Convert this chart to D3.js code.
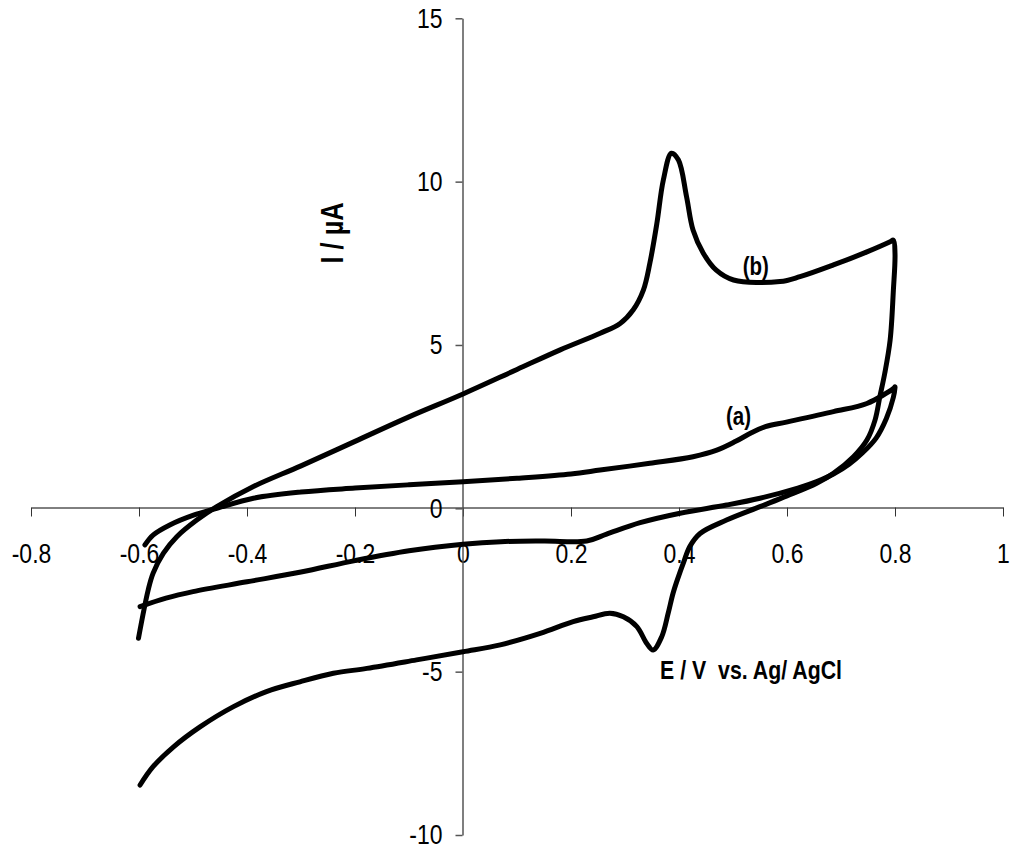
<!DOCTYPE html>
<html>
<head>
<meta charset="utf-8">
<script src="https://cdn.jsdelivr.net/npm/d3@7"></script>
<style>
  html, body { margin: 0; padding: 0; background: #fff; }
  svg { display: block; }
  text { font-family: "Liberation Sans", Arial, sans-serif; }
</style>
</head>
<body>
<svg id="chart" width="1010" height="850"></svg>
<script>
// Cyclic voltammograms: potential E (V vs. Ag/AgCl) and current I (µA)
const xTicks = [-0.8, -0.6, -0.4, -0.2, 0, 0.2, 0.4, 0.6, 0.8, 1];
const yTicks = [-10, -5, 0, 5, 10, 15];

// curve (a): anodic sweep then cathodic sweep
const aForwardE = [-0.589, -0.574, -0.543, -0.499, -0.456, -0.388, -0.30, -0.20, -0.10, 0.0, 0.10, 0.20, 0.254, 0.346, 0.426, 0.470, 0.505, 0.535, 0.560, 0.599, 0.686, 0.748, 0.797, 0.800];
const aForwardI = [-1.12, -0.82, -0.51, -0.21, 0.0, 0.31, 0.50, 0.62, 0.72, 0.81, 0.92, 1.05, 1.17, 1.38, 1.58, 1.78, 2.05, 2.32, 2.50, 2.64, 2.96, 3.21, 3.67, 3.72];
const aReverseE = [0.800, 0.797, 0.784, 0.765, 0.740, 0.715, 0.686, 0.655, 0.620, 0.550, 0.488, 0.402, 0.328, 0.266, 0.229, 0.150, 0.070, 0.0, -0.10, -0.20, -0.30, -0.40, -0.50, -0.55, -0.598];
const aReverseI = [3.70, 3.40, 2.75, 2.15, 1.70, 1.35, 1.05, 0.82, 0.62, 0.31, 0.10, -0.15, -0.44, -0.79, -1.00, -1.00, -1.02, -1.10, -1.30, -1.60, -1.95, -2.25, -2.55, -2.75, -3.01];

// curve (b): anodic sweep then cathodic sweep
const bForwardE = [-0.601, -0.583, -0.574, -0.555, -0.530, -0.493, -0.456, -0.389, -0.30, -0.20, -0.10, 0.0, 0.10, 0.18, 0.254, 0.291, 0.315, 0.334, 0.346, 0.359, 0.371, 0.386, 0.399, 0.414, 0.426, 0.445, 0.469, 0.501, 0.587, 0.624, 0.686, 0.748, 0.791, 0.797];
const bForwardI = [-3.98, -2.50, -1.99, -1.38, -0.87, -0.36, 0.05, 0.66, 1.30, 2.05, 2.80, 3.50, 4.25, 4.85, 5.36, 5.66, 6.07, 6.68, 7.50, 8.72, 10.05, 10.87, 10.66, 9.54, 8.52, 7.81, 7.29, 6.99, 6.94, 7.09, 7.45, 7.85, 8.16, 8.21];
const bReverseE = [0.800, 0.797, 0.791, 0.781, 0.772, 0.763, 0.748, 0.723, 0.686, 0.655, 0.600, 0.550, 0.488, 0.439, 0.420, 0.408, 0.399, 0.389, 0.380, 0.368, 0.352, 0.340, 0.322, 0.297, 0.272, 0.241, 0.204, 0.143, 0.069, 0.0, -0.086, -0.178, -0.240, -0.302, -0.364, -0.425, -0.487, -0.536, -0.574, -0.598];
const bReverseI = [7.80, 6.68, 5.15, 4.13, 3.42, 2.70, 2.09, 1.58, 1.07, 0.77, 0.38, 0.05, -0.36, -0.77, -1.17, -1.68, -2.09, -2.60, -3.21, -3.93, -4.34, -4.13, -3.62, -3.32, -3.21, -3.32, -3.47, -3.83, -4.18, -4.39, -4.64, -4.90, -5.05, -5.31, -5.61, -6.07, -6.69, -7.30, -7.91, -8.47];

const curveLabels = [
  { text: "(a)", e: 0.487, i: 2.55 },
  { text: "(b)", e: 0.518, i: 7.15 }
];

const zip = (es, is) => es.map((e, k) => [e, is[k]]);
const curves = [
  zip(aForwardE, aForwardI).concat(zip(aReverseE, aReverseI)),
  zip(bForwardE, bForwardI).concat(zip(bReverseE, bReverseI))
];

// narrow lettering: horizontal squeeze applied to every text
const SQUEEZE = 0.82;

const svg = d3.select("#chart");
const x = d3.scaleLinear().domain([-0.8, 1]).range([31, 1003]);
const y = d3.scaleLinear().domain([-10, 15]).range([835, 18.3]);

const x0 = Math.round(x(0)) - 0.5;
const y0 = Math.round(y(0)) - 0.5;

// horizontal axis through I = 0
const xAxis = svg.append("g")
  .attr("transform", `translate(0,${y0})`)
  .call(d3.axisBottom(x).tickValues(xTicks).tickFormat(d => String(d))
    .tickSize(9).tickSizeOuter(0).tickPadding(27));
xAxis.attr("font-family", null).attr("font-size", null);
xAxis.select(".domain").attr("stroke", "#000").attr("stroke-width", 1);
xAxis.selectAll(".tick line").attr("stroke", "#333").attr("stroke-width", 1);
xAxis.selectAll(".tick text")
  .attr("font-size", 28).attr("fill", "#000")
  .attr("transform", `scale(${SQUEEZE},1)`);

// vertical axis through E = 0
const yAxis = svg.append("g")
  .attr("transform", `translate(${x0},0)`)
  .call(d3.axisLeft(y).tickValues(yTicks).tickFormat(d => String(d))
    .tickSize(7).tickSizeOuter(0).tickPadding(13));
yAxis.attr("font-family", null).attr("font-size", null);
yAxis.select(".domain").attr("stroke", "#555").attr("stroke-width", 1.5);
yAxis.selectAll(".tick line").attr("stroke", "#555").attr("stroke-width", 1.5);
yAxis.selectAll(".tick text")
  .attr("font-size", 28).attr("fill", "#000")
  .attr("x", -20 / SQUEEZE)
  .attr("transform", `scale(${SQUEEZE},1)`);

// voltammogram traces
const line = d3.line().x(d => x(d[0])).y(d => y(d[1])).curve(d3.curveCatmullRom.alpha(0.5));
svg.append("g").selectAll("path")
  .data(curves)
  .join("path")
  .attr("d", line)
  .attr("fill", "none")
  .attr("stroke", "#000")
  .attr("stroke-width", 5)
  .attr("stroke-linejoin", "round")
  .attr("stroke-linecap", "round");

// curve labels
svg.append("g").selectAll("g")
  .data(curveLabels)
  .join("g")
  .attr("transform", d => `translate(${x(d.e)},${y(d.i)}) scale(${SQUEEZE},1)`)
  .append("text")
  .attr("font-size", 25)
  .attr("font-weight", "bold")
  .text(d => d.text);

// axis titles
svg.append("g")
  .attr("transform", `translate(343,233) rotate(-90) scale(${SQUEEZE},1)`)
  .append("text")
  .attr("text-anchor", "middle")
  .attr("font-size", 31)
  .attr("font-weight", "bold")
  .text("I / µA");

svg.append("g")
  .attr("transform", `translate(660,679) scale(${SQUEEZE},1)`)
  .append("text")
  .attr("font-size", 26)
  .attr("font-weight", "bold")
  .style("white-space", "pre")
  .text("E / V  vs. Ag/ AgCl");
</script>
</body>
</html>
